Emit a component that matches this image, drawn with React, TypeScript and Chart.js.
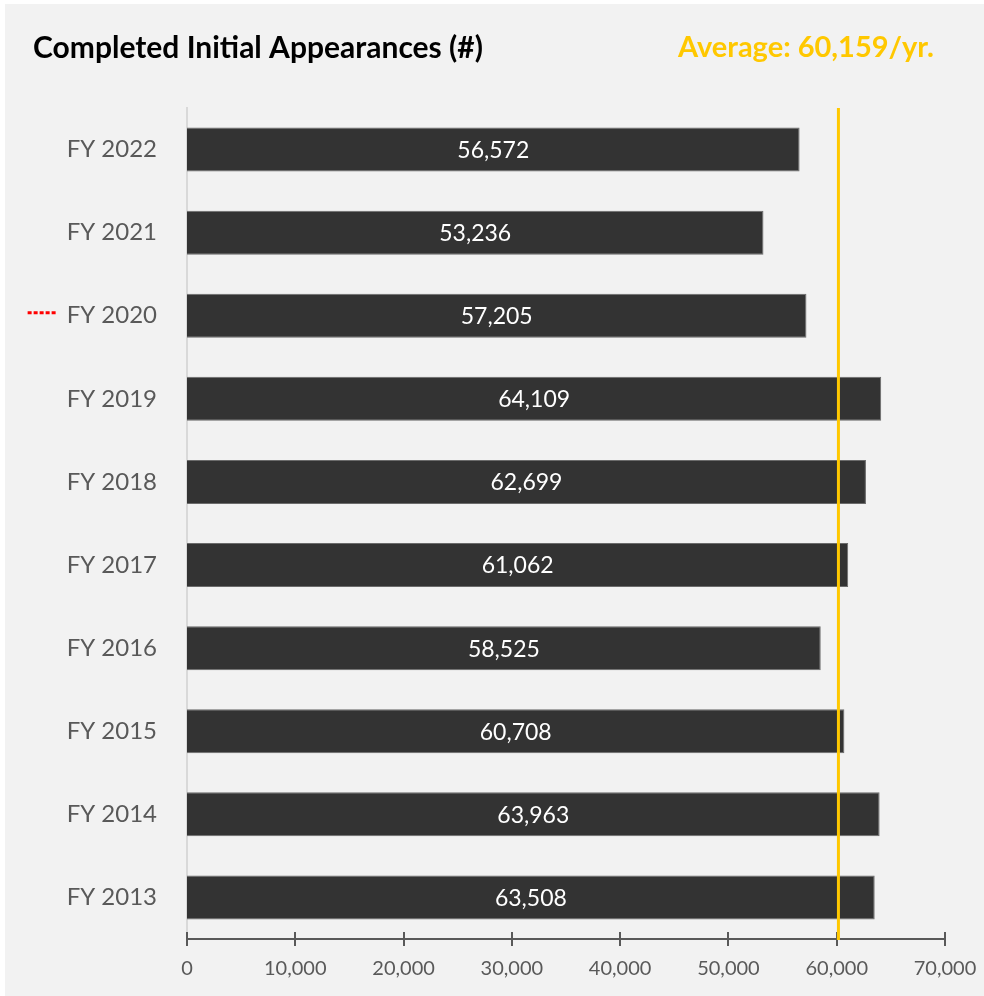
import React, { useEffect, useRef } from "react";
import { Chart, registerables } from "chart.js";

Chart.register(...registerables);

const categories = ["FY 2022", "FY 2021", "FY 2020", "FY 2019", "FY 2018", "FY 2017", "FY 2016", "FY 2015", "FY 2014", "FY 2013"];
const appearances = [56572, 53236, 57205, 64109, 62699, 61062, 58525, 60708, 63963, 63508];
const average = 60159;
const markedCategory = "FY 2020";
const xTicksMin = 0;
const xTicksMax = 70000;
const xTickStep = 10000;
const titleText = "Completed Initial Appearances (#)";
const averageText = "Average: 60,159/yr.";

const FONT = "Lato, 'Noto Sans', sans-serif";
const fmt = (v: number) => v.toLocaleString("en-US");

const overlayPlugin = {
  id: "overlay",
  afterDatasetsDraw(chart: any) {
    const { ctx, chartArea } = chart;
    const xs = chart.scales.x;
    const ys = chart.scales.y;
    ctx.save();
    // x axis line with crossing tick marks
    ctx.strokeStyle = "#595959";
    ctx.lineWidth = 2;
    ctx.beginPath();
    ctx.moveTo(chartArea.left, chartArea.bottom);
    ctx.lineTo(chartArea.right + 1, chartArea.bottom);
    ctx.stroke();
    xs.ticks.forEach((t: any) => {
      const px = Math.round(xs.getPixelForValue(t.value));
      ctx.beginPath();
      ctx.moveTo(px, chartArea.bottom - 7);
      ctx.lineTo(px, chartArea.bottom + 7);
      ctx.stroke();
    });
    // data labels
    const meta = chart.getDatasetMeta(0);
    ctx.fillStyle = "#ffffff";
    ctx.font = `23px ${FONT}`;
    ctx.textAlign = "center";
    ctx.textBaseline = "middle";
    meta.data.forEach((bar: any, i: number) => {
      const cx = (bar.x + bar.base) / 2;
      ctx.fillText(fmt(appearances[i]), cx, bar.y + 1);
    });
    // average line
    const ax = xs.getPixelForValue(average);
    ctx.strokeStyle = "#FFC800";
    ctx.lineWidth = 3;
    ctx.beginPath();
    ctx.moveTo(ax, chartArea.top);
    ctx.lineTo(ax, chartArea.bottom + 1);
    ctx.stroke();
    // red dotted marker before the marked category label
    const idx = categories.indexOf(markedCategory);
    if (idx >= 0) {
      const yPix = ys.getPixelForValue(idx) - 3;
      ctx.font = `24px ${FONT}`;
      const w = ctx.measureText(markedCategory).width;
      const labelLeft = ys.right - ys.options.ticks.padding - w;
      ctx.strokeStyle = "#FF0000";
      ctx.lineWidth = 3;
      ctx.setLineDash([4, 2]);
      ctx.beginPath();
      ctx.moveTo(labelLeft - 39, yPix);
      ctx.lineTo(labelLeft - 9, yPix);
      ctx.stroke();
      ctx.setLineDash([]);
    }
    // titles
    ctx.textAlign = "left";
    ctx.textBaseline = "middle";
    ctx.font = `bold 30px ${FONT}`;
    ctx.fillStyle = "#000000";
    ctx.fillText(titleText, 28, 44);
    ctx.font = `bold 29px ${FONT}`;
    ctx.fillStyle = "#FFC800";
    ctx.fillText(averageText, 673, 44);
    ctx.restore();
  },
};

export default function App() {
  const ref = useRef<HTMLCanvasElement | null>(null);
  useEffect(() => {
    if (!ref.current) return;
    const chart = new Chart(ref.current, {
      type: "bar",
      data: {
        labels: categories,
        datasets: [
          {
            data: appearances,
            backgroundColor: "#333333",
            borderColor: "#6b6b6b",
            borderWidth: 1,
            barPercentage: 0.53,
            categoryPercentage: 1,
          },
        ],
      },
      options: {
        indexAxis: "y",
        animation: false,
        responsive: false,
        devicePixelRatio: 1,
        layout: { padding: { top: 104, right: 39, left: 0, bottom: 0 } },
        plugins: { legend: { display: false }, tooltip: { enabled: false }, title: { display: false } },
        scales: {
          x: {
            min: xTicksMin,
            max: xTicksMax,
            ticks: {
              stepSize: xTickStep,
              color: "#595959",
              font: { family: FONT, size: 20 },
              padding: 18,
              maxRotation: 0,
              callback: (v: any) => fmt(Number(v)),
            },
            grid: { display: false, drawTicks: false },
            border: { display: false },
            afterFit: (s: any) => {
              s.height = 57;
              s.paddingLeft = 0;
              s.paddingRight = 0;
            },
          },
          y: {
            ticks: {
              color: "#595959",
              font: { family: FONT, size: 24 },
              padding: 30,
            },
            grid: { display: false, drawTicks: false },
            border: { display: true, color: "#d9d9d9", width: 2 },
            afterFit: (s: any) => {
              s.width = 182;
              s.paddingTop = 0;
              s.paddingBottom = 0;
            },
          },
        },
      },
      plugins: [overlayPlugin],
    });
    return () => chart.destroy();
  }, []);
  return (
    <div style={{ position: "fixed", left: 0, top: 0, right: 0, bottom: 0, background: "#ffffff" }}>
      <div style={{ position: "absolute", left: 5, top: 4, right: 0, bottom: 0, background: "#f2f2f2" }}>
        <canvas ref={ref} width={979} height={992} style={{ display: "block", width: 979, height: 992 }} />
      </div>
    </div>
  );
}
